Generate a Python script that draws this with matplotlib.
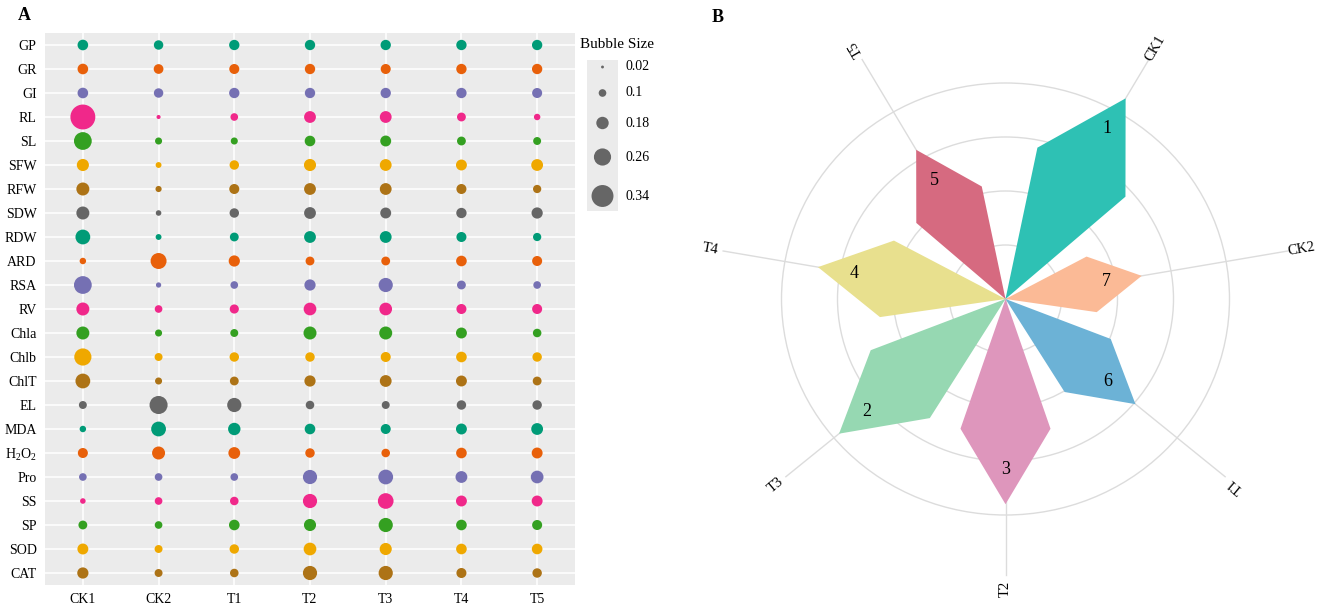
import numpy as np
import matplotlib
matplotlib.use("Agg")
import matplotlib.pyplot as plt
from matplotlib.patches import Polygon, Ellipse

plt.rcParams['font.family'] = ['Liberation Serif', 'DejaVu Serif']
plt.rcParams['mathtext.fontset'] = 'custom'
plt.rcParams['mathtext.rm'] = 'Liberation Serif'
plt.rcParams['mathtext.it'] = 'Liberation Serif:italic'

# ---- panel A data: relative bubble size per trait (top to bottom) ----
traits = ["GP", "GR", "GI", "RL", "SL", "SFW", "RFW", "SDW", "RDW", "ARD", "RSA", "RV",
          "Chla", "Chlb", "ChlT", "EL", "MDA", r"H$_{\mathrm{2}}$O$_{\mathrm{2}}$", "Pro",
          "SS", "SP", "SOD", "CAT"]
treatments = ["CK1", "CK2", "T1", "T2", "T3", "T4", "T5"]

ck1 = [0.15, 0.15, 0.15, 0.39, 0.27, 0.175, 0.19, 0.19, 0.22, 0.08, 0.27, 0.19,
       0.19, 0.26, 0.22, 0.105, 0.08, 0.14, 0.10, 0.065, 0.12, 0.155, 0.16]
ck2 = [0.13, 0.135, 0.13, 0.04, 0.09, 0.07, 0.075, 0.065, 0.07, 0.24, 0.06, 0.10,
       0.09, 0.105, 0.09, 0.275, 0.22, 0.19, 0.10, 0.10, 0.10, 0.105, 0.105]
t1 = [0.145, 0.14, 0.145, 0.10, 0.09, 0.13, 0.14, 0.13, 0.12, 0.16, 0.10, 0.125,
      0.105, 0.13, 0.12, 0.21, 0.18, 0.17, 0.10, 0.115, 0.15, 0.13, 0.115]
t2 = [0.145, 0.145, 0.145, 0.17, 0.15, 0.175, 0.17, 0.17, 0.17, 0.12, 0.16, 0.185,
      0.19, 0.13, 0.16, 0.115, 0.15, 0.13, 0.21, 0.21, 0.175, 0.185, 0.21]
t3 = [0.145, 0.14, 0.145, 0.17, 0.155, 0.17, 0.17, 0.155, 0.17, 0.12, 0.21, 0.185,
      0.19, 0.14, 0.17, 0.105, 0.14, 0.115, 0.22, 0.235, 0.21, 0.175, 0.21]
t4 = [0.145, 0.145, 0.145, 0.12, 0.12, 0.155, 0.14, 0.145, 0.14, 0.15, 0.12, 0.14,
      0.155, 0.15, 0.155, 0.13, 0.155, 0.15, 0.17, 0.155, 0.15, 0.15, 0.14]
t5 = [0.145, 0.145, 0.14, 0.08, 0.105, 0.17, 0.11, 0.16, 0.11, 0.14, 0.10, 0.14,
      0.115, 0.13, 0.12, 0.13, 0.17, 0.155, 0.185, 0.155, 0.14, 0.15, 0.13]

legend_sizes = [0.02, 0.1, 0.18, 0.26, 0.34]
trait_colors = ['#009B77', '#E8600A', '#7570B3', '#F0288A', '#34A021', '#EFA800', '#AD7316', '#666666']

# ---- panel B data: comprehensive score per treatment and rank ----
radar_groups = ["CK1", "CK2", "T1", "T2", "T3", "T4", "T5"]
radar_scores = [4.29, 2.47, 3.03, 3.80, 3.88, 3.40, 3.19]
radar_rank = [1, 7, 6, 3, 2, 4, 5]
radar_colors = ['#2EC1B4', '#FBBA96', '#6CB2D6', '#DE96BC', '#96D8B2', '#E8E08E', '#D66A80']


def diam_to_s(v):
    # bubble diameter (px) grows linearly with value
    d_px = 1.7 + 59.5 * np.asarray(v)
    return (d_px * 0.72) ** 2


W, H = 1328, 606
fig = plt.figure(figsize=(W / 100, H / 100), dpi=100)

# ================= Panel A =================
ax = fig.add_axes([45 / W, (H - 585) / H, 530 / W, 552 / H])
ax.set_facecolor('#EBEBEB')
for s in ax.spines.values():
    s.set_visible(False)

cols = [ck1, ck2, t1, t2, t3, t4, t5]
n = len(traits)
ypos = np.arange(n, 0, -1)
ax.set_axisbelow(True)
ax.grid(True, color='white', lw=1.1)
for j, col in enumerate(cols):
    ax.scatter(np.full(n, j + 1), ypos, s=diam_to_s(col),
               c=[trait_colors[i % 8] for i in range(n)], linewidths=0, zorder=3)
ax.set_xlim(0.5, 7.5)
ax.set_ylim(0.5, n + 0.5)
ax.set_xticks(np.arange(1, 8))
ax.set_xticklabels(treatments, fontsize=10)
ax.set_yticks(ypos)
ax.set_yticklabels(traits, fontsize=10)
ax.tick_params(length=0, pad=6, colors='black')

fig.text(18 / W, 1 - 16 / H, "A", fontsize=13, fontweight='bold', va='center', ha='left')

# legend
fig.text(580 / W, 1 - 45 / H, "Bubble Size", fontsize=11, va='center', ha='left')
lax = fig.add_axes([587 / W, (H - 211) / H, 31 / W, 151 / H])
lax.set_facecolor('#EBEBEB')
for s in lax.spines.values():
    s.set_visible(False)
lax.set_xticks([])
lax.set_yticks([])
lax.set_xlim(0, 31)
lax.set_ylim(211, 60)
leg_y = [67, 93, 123, 157, 196]
lax.scatter([15.5] * 5, leg_y, s=diam_to_s(legend_sizes), c='#666666', linewidths=0)
for yy, v in zip(leg_y, legend_sizes):
    lax.text(38, yy, f"{v:g}", fontsize=10, va='center', ha='left', clip_on=False)

# ================= Panel B =================
cx, cy, ux, uy = 1005.5, 299, 56, 54
bx = fig.add_axes([705 / W, 0, 623 / W, 1])
bx.set_xlim((705 - cx) / ux, (W - cx) / ux)
bx.set_ylim((cy - H) / uy, cy / uy)
bx.axis('off')

for r in [1, 2, 3, 4]:
    bx.add_patch(Ellipse((0, 0), 2 * r, 2 * r, fill=False, ec='#DCDCDC', lw=1.0, zorder=1))

angles = [np.deg2rad(90 - (i + 0.6) * 50) for i in range(len(radar_groups))]
label_rot = [60, 10, 140, 90, 40, -10, 120]
for ang, name, rot in zip(angles, radar_groups, label_rot):
    bx.plot([0, 5.12 * np.cos(ang)], [0, 5.12 * np.sin(ang)], color='#DCDCDC', lw=1.0, zorder=1)
    bx.text(5.36 * np.cos(ang), 5.36 * np.sin(ang), name, fontsize=10.5,
            rotation=rot, ha='center', va='center', rotation_mode='anchor')

delta = np.deg2rad(18.5)
for ang, sc, rk, colr in zip(angles, radar_scores, radar_rank, radar_colors):
    rs = sc * 2 / 3
    pts = [(0, 0),
           (rs * np.cos(ang + delta), rs * np.sin(ang + delta)),
           (sc * np.cos(ang), sc * np.sin(ang)),
           (rs * np.cos(ang - delta), rs * np.sin(ang - delta))]
    bx.add_patch(Polygon(pts, closed=True, fc=colr, ec='none', zorder=2))
    rl = sc - 0.65
    bx.text(rl * np.cos(ang), rl * np.sin(ang), str(rk), fontsize=13,
            ha='center', va='center', zorder=3)

fig.text(712 / W, 1 - 18 / H, "B", fontsize=13, fontweight='bold', va='center', ha='left')

fig.savefig("out.png", dpi=100)
